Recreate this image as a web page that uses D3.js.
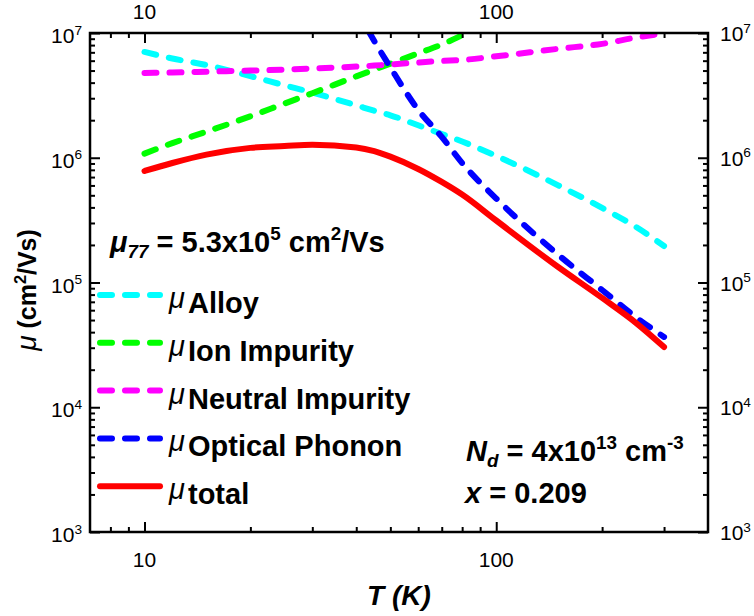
<!DOCTYPE html>
<html>
<head>
<meta charset="utf-8">
<script src="https://cdn.jsdelivr.net/npm/d3@7"></script>
<style>
  html, body { margin: 0; padding: 0; background: #fff; }
  svg { display: block; font-family: "Liberation Sans", Arial, sans-serif; }
</style>
</head>
<body>
<svg id="chart" width="754" height="616"></svg>
<script>
// Temperature grid (K) shared by every mobility curve
const temps = [10, 12, 15, 20, 25, 30, 40, 45, 50, 60, 70, 80, 100, 150, 200, 250, 300];

// Mobility contributions (cm^2/Vs); null where a curve lies outside the plotted range
const alloy = [7.05e6, 6.25e6, 5.54e6, 4.51e6, 3.81e6, 3.33e6, 2.63e6, 2.38e6, 2.19e6, 1.82e6, 1.55e6, 1.35e6, 1.035e6, 6.01e5, 3.96e5, 2.78e5, 1.96e5];
const ionImpurity = [1.08e6, 1.31e6, 1.62e6, 2.15e6, 2.72e6, 3.29e6, 4.49e6, 5.08e6, 5.68e6, 6.87e6, 8.09e6, 9.6e6, null, null, null, null, null];
const neutralImpurity = [4.78e6, 4.82e6, 4.90e6, 5.00e6, 5.09e6, 5.19e6, 5.38e6, 5.48e6, 5.59e6, 5.80e6, 5.97e6, 6.08e6, 6.50e6, 7.47e6, 8.18e6, 9.2e6, 9.9e6];
const opticalPhonon = [null, null, null, null, null, null, 1.55e7, 8.63e6, 5.31e6, 2.42e6, 1.47e6, 9.07e5, 4.71e5, 1.67e5, 8.71e4, 5.25e4, 3.66e4];
const total = [7.83e5, 9.08e5, 1.06e6, 1.20e6, 1.24e6, 1.27e6, 1.21e6, 1.13e6, 1.02e6, 8.13e5, 6.40e5, 5.07e5, 3.14e5, 1.33e5, 7.52e4, 4.73e4, 3.04e4];

// Legend names and colours
const seriesNames = ["Alloy", "Ion Impurity", "Neutral Impurity", "Optical Phonon", "total"];
const seriesColors = ["#00FFFF", "#00FF00", "#FF00FF", "#0000FF", "#FF0000"];
const seriesDashed = [true, true, true, true, false];
const seriesValues = [alloy, ionImpurity, neutralImpurity, opticalPhonon, total];

// Axis ticks
const xMajor = [10, 100];
const xMinor = [8, 9, 20, 30, 40, 50, 60, 70, 80, 90, 200, 300];
const yMajorExp = [3, 4, 5, 6, 7];

const svg = d3.select("#chart");
const plotL = 90, plotR = 708, plotT = 33, plotB = 532;

const x = d3.scaleLog().domain([7, 400]).range([plotL, plotR]);
const y = d3.scaleLog().domain([1e3, 1e7]).range([plotB, plotT]);

const yMajor = yMajorExp.map(e => Math.pow(10, e));
const yMinor = [];
for (let e = 3; e < 7; e++) for (let m = 2; m <= 9; m++) yMinor.push(m * Math.pow(10, e));

// Rich text helper: parts carry sup / sub / italic / raise flags
function rich(textSel, parts, fs) {
  let shift = 0;
  parts.forEach(p => {
    const ts = textSel.append("tspan").text(p.t);
    let target = 0, size = fs;
    if (p.sup) { target = -fs * 0.4; size = fs * 0.65; }
    if (p.sub) { target = fs * 0.22; size = fs * 0.65; }
    if (p.raise !== undefined) { target = p.raise; }
    if (p.size) size = p.size;
    ts.attr("dy", target - shift).attr("font-size", size);
    if (p.x !== undefined) ts.attr("x", p.x);
    if (p.it) ts.attr("font-style", "italic");
    if (p.normal) ts.attr("font-weight", "normal");
    shift = target;
  });
}

// Clip region for the curves
svg.append("clipPath").attr("id", "plotClip")
  .append("rect").attr("x", plotL).attr("y", plotT)
  .attr("width", plotR - plotL).attr("height", plotB - plotT);

// Curves
const line = d3.line()
  .defined(d => d.v !== null)
  .x(d => x(d.t))
  .y(d => y(d.v))
  .curve(d3.curveMonotoneX);

const curves = svg.append("g").attr("clip-path", "url(#plotClip)");
seriesValues.forEach((vals, i) => {
  const pts = temps.map((t, k) => ({ t: t, v: vals[k] }));
  curves.append("path")
    .attr("d", line(pts))
    .attr("fill", "none")
    .attr("stroke", seriesColors[i])
    .attr("stroke-width", 6)
    .attr("stroke-linecap", "round")
    .attr("stroke-linejoin", "round")
    .attr("stroke-dasharray", seriesDashed[i] ? "12,13" : null);
});

// Axes: ticks pointing inward on all four sides
function styleAxis(g) {
  g.select(".domain").remove();
  g.selectAll(".tick line").attr("stroke", "#000").attr("stroke-width", 2);
  g.selectAll(".tick text").remove();
}
const axes = [
  [d3.axisBottom(x), `translate(0,${plotB})`, xMajor, xMinor],
  [d3.axisTop(x), `translate(0,${plotT})`, xMajor, xMinor],
  [d3.axisLeft(y), `translate(${plotL},0)`, yMajor, yMinor],
  [d3.axisRight(y), `translate(${plotR},0)`, yMajor, yMinor]
];
axes.forEach(([ax, tr, maj, min]) => {
  svg.append("g").attr("transform", tr)
    .call(ax.tickValues(maj).tickSizeInner(-10).tickSizeOuter(0)).call(styleAxis);
  svg.append("g").attr("transform", tr)
    .call(ax.tickValues(min).tickSizeInner(-5).tickSizeOuter(0)).call(styleAxis);
});

// Frame
svg.append("rect")
  .attr("x", plotL).attr("y", plotT)
  .attr("width", plotR - plotL).attr("height", plotB - plotT)
  .attr("fill", "none").attr("stroke", "#000").attr("stroke-width", 2.5);

// X tick labels (bottom and top)
xMajor.forEach(t => {
  svg.append("text").attr("x", x(t)).attr("y", 567)
    .attr("text-anchor", "middle").attr("font-size", 21).text(t);
  svg.append("text").attr("x", x(t)).attr("y", 19)
    .attr("text-anchor", "middle").attr("font-size", 21).text(t);
});

// Y tick labels (left and right)
yMajorExp.forEach(e => {
  const v = Math.pow(10, e);
  const tl = svg.append("text").attr("x", 82).attr("y", y(v) + 10)
    .attr("text-anchor", "end").attr("font-size", 21);
  rich(tl, [{ t: "10" }, { t: String(e), sup: true }], 21);
  const tr = svg.append("text").attr("x", 720).attr("y", y(v) + 8)
    .attr("font-size", 21);
  rich(tr, [{ t: "10" }, { t: String(e), sup: true }], 21);
});

// Axis titles
svg.append("text")
  .attr("x", (plotL + plotR) / 2).attr("y", 605)
  .attr("text-anchor", "middle").attr("font-size", 28)
  .attr("font-weight", "bold").attr("font-style", "italic")
  .text("T (K)");

const yt = svg.append("text")
  .attr("transform", `translate(36,290) rotate(-90)`)
  .attr("text-anchor", "middle").attr("font-size", 25).attr("font-weight", "bold");
rich(yt, [{ t: "μ", it: true, normal: true, size: 28 }, { t: " (cm" }, { t: "2", sup: true }, { t: "/Vs)" }], 25);

// Legend
const legendY0 = 295, legendStep = 47.8;
seriesNames.forEach((name, i) => {
  const ly = legendY0 + i * legendStep;
  svg.append("line")
    .attr("x1", 100).attr("x2", 160).attr("y1", ly).attr("y2", ly)
    .attr("stroke", seriesColors[i]).attr("stroke-width", 6)
    .attr("stroke-linecap", "round")
    .attr("stroke-dasharray", seriesDashed[i] ? "12,13" : null);
  const lt = svg.append("text").attr("x", 169).attr("y", ly + 18)
    .attr("font-size", 29).attr("font-weight", "bold");
  rich(lt, [{ t: "μ", it: true, normal: true, size: 29, raise: -5 }, { t: name, x: 188 }], 29);
});

// Annotations
const a1 = svg.append("text").attr("x", 110).attr("y", 252)
  .attr("font-size", 29).attr("font-weight", "bold");
rich(a1, [{ t: "μ", it: true }, { t: "77", sub: true, it: true }, { t: " = 5.3x10" }, { t: "5", sup: true },
          { t: " cm" }, { t: "2", sup: true }, { t: "/Vs" }], 29);

const a2 = svg.append("text").attr("x", 466).attr("y", 461)
  .attr("font-size", 29).attr("font-weight", "bold");
rich(a2, [{ t: "N", it: true }, { t: "d", sub: true, it: true }, { t: " = 4x10" }, { t: "13", sup: true },
          { t: " cm" }, { t: "-3", sup: true }], 29);

const a3 = svg.append("text").attr("x", 465).attr("y", 503)
  .attr("font-size", 29).attr("font-weight", "bold");
rich(a3, [{ t: "x", it: true }, { t: " = 0.209" }], 29);
</script>
</body>
</html>
